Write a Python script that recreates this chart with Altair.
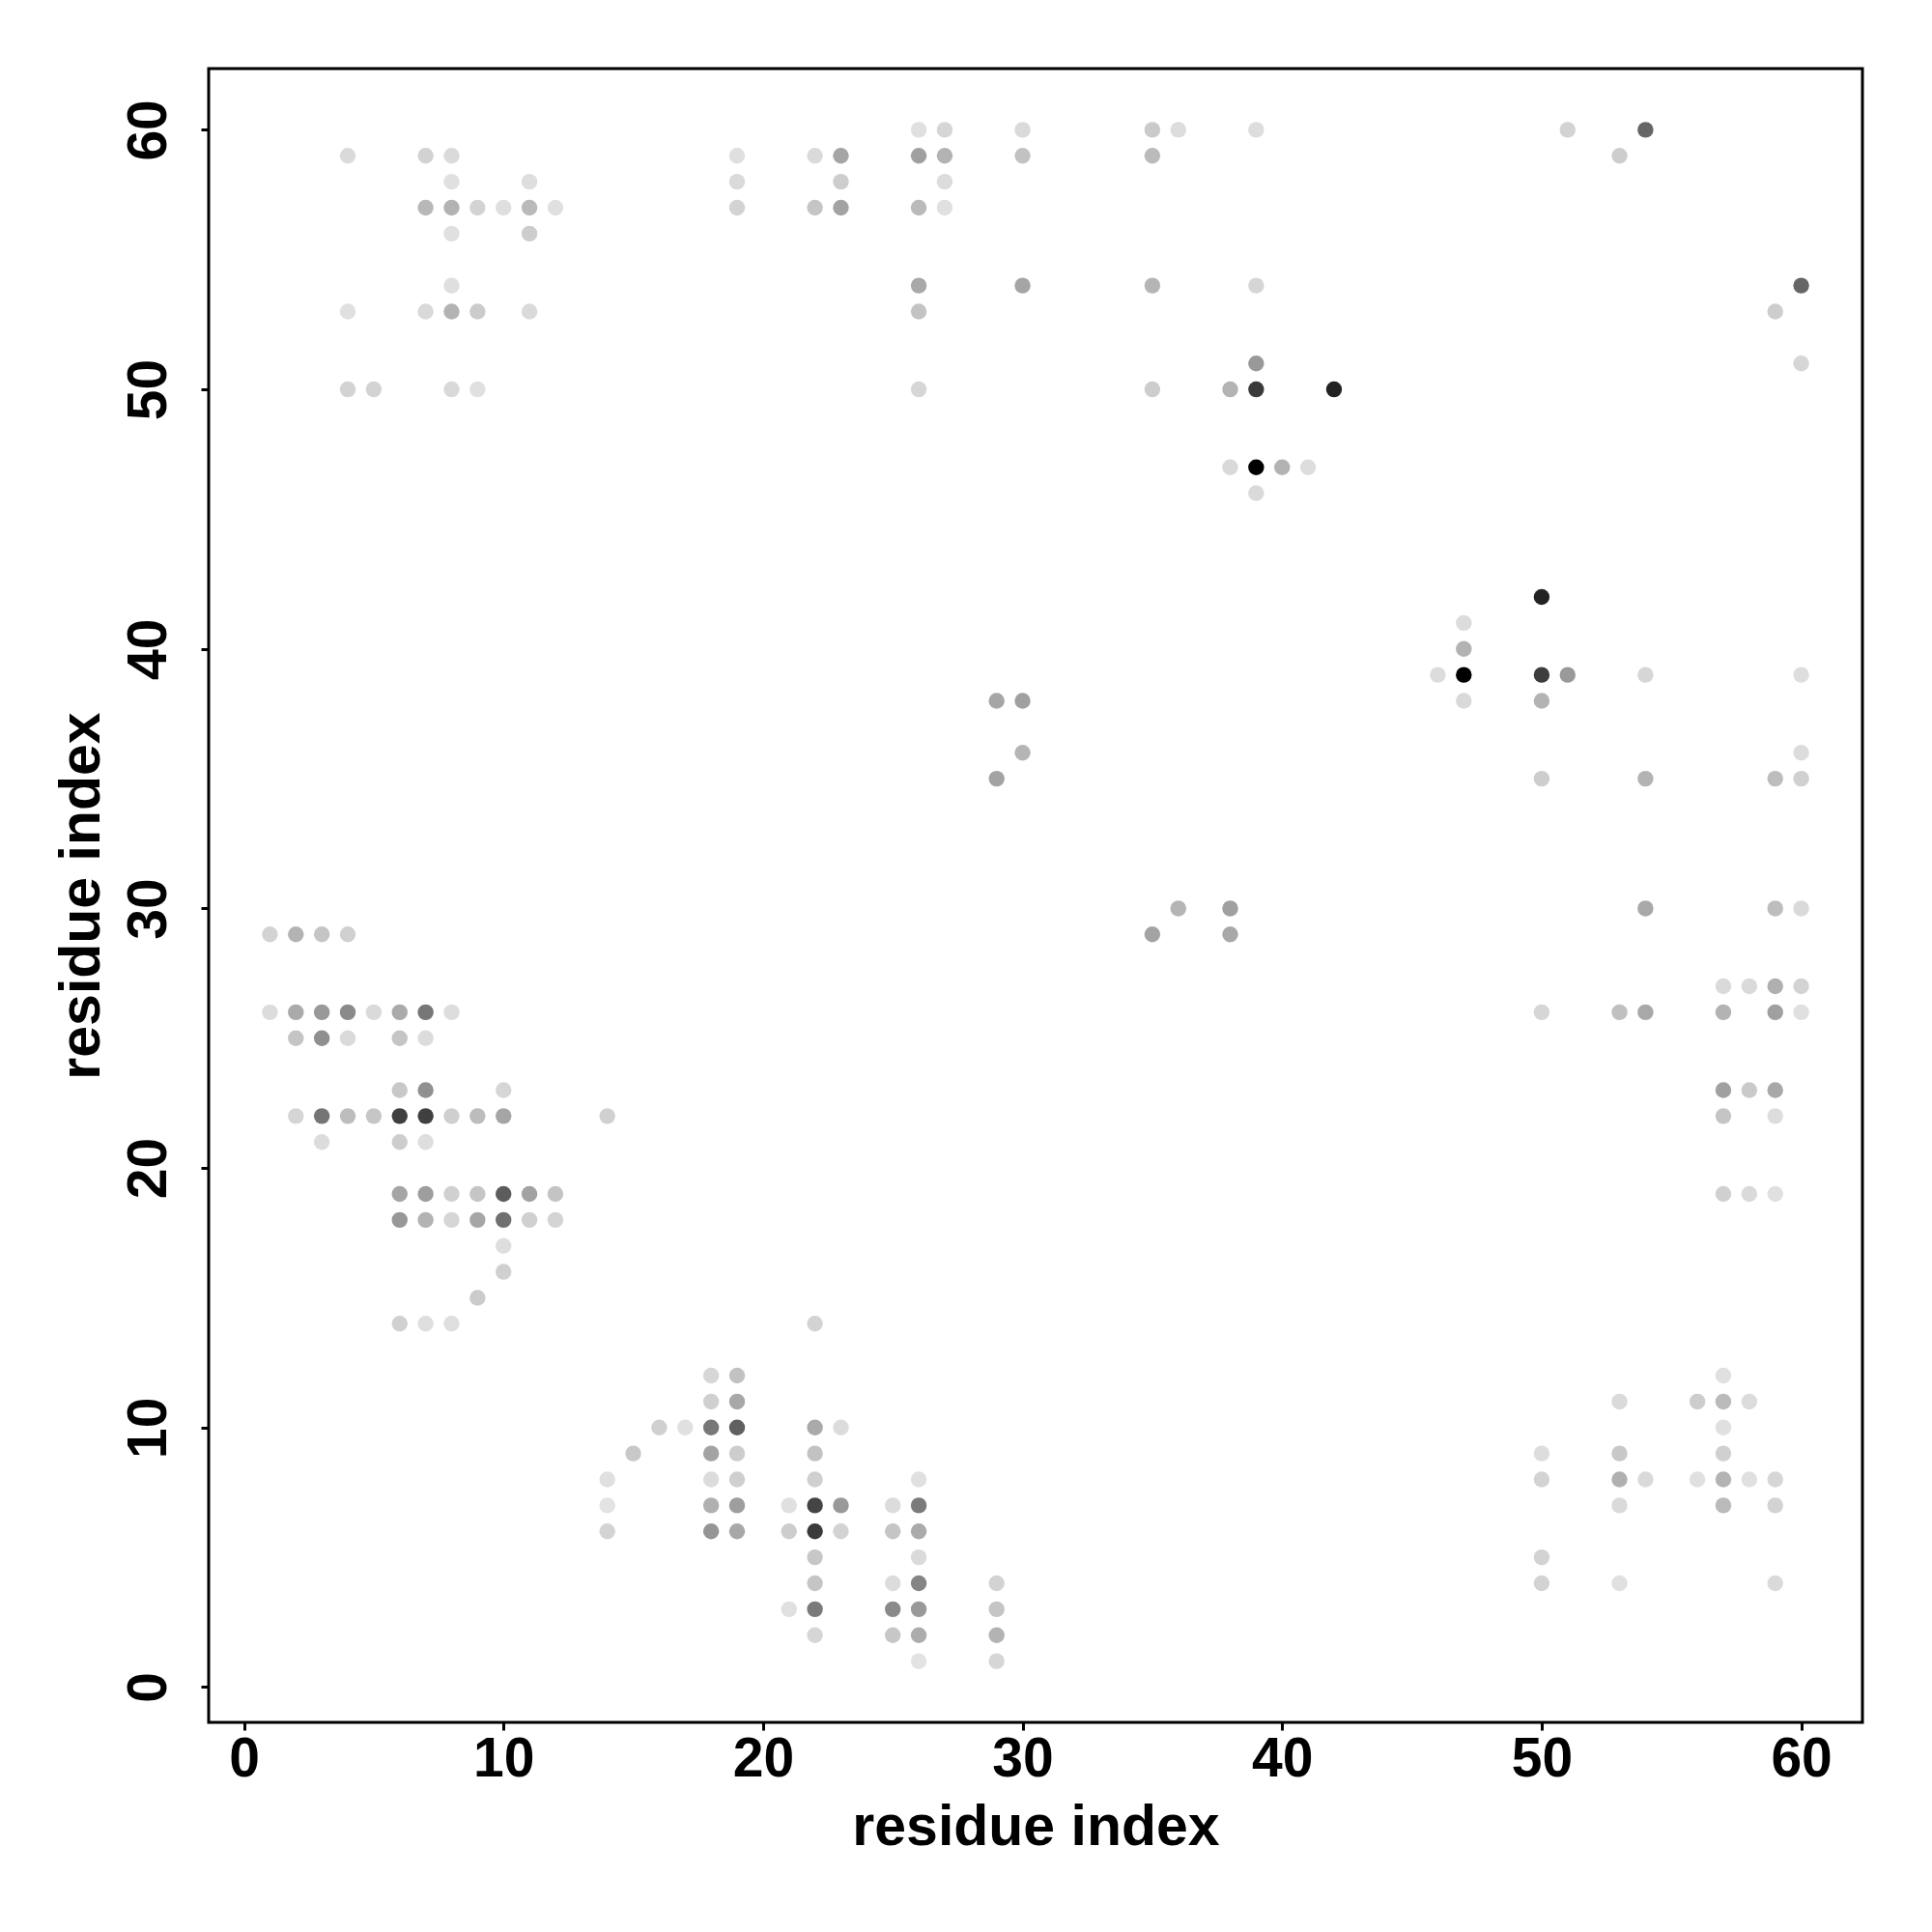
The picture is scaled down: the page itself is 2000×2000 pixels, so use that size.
import altair as alt
import pandas as pd

# contact map points: (residue i, residue j, gray level 0=black .. 255=white)
res_i = [
    1, 2, 3, 4,
    1, 2, 3, 4, 5, 6, 7, 8,
    2, 3, 4, 6, 7,
    6, 7, 10,
    2, 3, 4, 5, 6, 7, 8, 9, 10, 14,
    3, 6, 7,
    6, 7, 8, 9, 10, 11, 12,
    6, 7, 8, 9, 10, 11, 12,
    10, 10, 9,
    6, 7, 8,
    4, 7, 8,
    8, 11,
    7, 8, 9, 10, 11, 12,
    8, 11,
    8,
    4, 7, 8, 9, 11,
    4, 5, 8, 9,
    22,
    18, 19,
    18, 19,
    16, 17, 18, 19, 22, 23,
    15, 18, 19, 22,
    14, 18, 19, 22, 26,
    14, 18, 19, 21, 22, 23, 25, 26,
    14, 18, 19, 21, 22, 23, 25, 26,
    22, 26,
    22, 25, 26, 29,
    21, 22, 25, 26, 29,
    22, 25, 26, 29,
    26, 29,
    26, 27, 30, 35, 36,
    19, 22, 23, 26, 27, 30, 35,
    19, 23, 27,
    19, 22, 23, 26, 27,
    26, 30, 35,
    26,
    26, 35,
    39, 39, 39, 38, 39, 42,
    38, 39, 40, 41, 39,
    29, 30, 30, 29, 36, 38, 35, 38,
    50, 47, 47,
    46, 47, 50, 51, 54, 60,
    47, 50,
    60,
    50, 54, 59, 60,
    54, 59, 60,
    57, 58, 59, 60,
    50, 53, 54, 57, 59, 60,
    57, 58, 59, 57, 59, 57, 58, 59,
    57, 53, 56, 57, 58, 57,
    50, 53, 57,
    50, 53, 54, 56, 57, 58, 59,
    53, 57, 59,
    50, 50, 53, 59,
    51, 54, 53, 60, 59, 60,
]
res_j = [
    29, 29, 29, 29,
    26, 26, 26, 26, 26, 26, 26, 26,
    25, 25, 25, 25, 25,
    23, 23, 23,
    22, 22, 22, 22, 22, 22, 22, 22, 22, 22,
    21, 21, 21,
    19, 19, 19, 19, 19, 19, 19,
    18, 18, 18, 18, 18, 18, 18,
    17, 16, 15,
    14, 14, 14,
    59, 59, 59,
    58, 58,
    57, 57, 57, 57, 57, 57,
    56, 56,
    54,
    53, 53, 53, 53, 53,
    50, 50, 50, 50,
    14,
    12, 12,
    11, 11,
    10, 10, 10, 10, 10, 10,
    9, 9, 9, 9,
    8, 8, 8, 8, 8,
    7, 7, 7, 7, 7, 7, 7, 7,
    6, 6, 6, 6, 6, 6, 6, 6,
    5, 5,
    4, 4, 4, 4,
    3, 3, 3, 3, 3,
    2, 2, 2, 2,
    1, 1,
    60, 60, 60, 60, 60,
    59, 59, 59, 59, 59, 59, 59,
    58, 58, 58,
    57, 57, 57, 57, 57,
    54, 54, 54,
    53,
    50, 50,
    60, 54, 51, 50, 50, 50,
    47, 47, 47, 47, 46,
    38, 38, 36, 35, 30, 30, 29, 29,
    42, 41, 40,
    39, 39, 39, 39, 39, 39,
    38, 38,
    36,
    35, 35, 35, 35,
    30, 30, 30,
    27, 27, 27, 27,
    26, 26, 26, 26, 26, 26,
    23, 23, 23, 22, 22, 19, 19, 19,
    12, 11, 11, 11, 11, 10,
    9, 9, 9,
    8, 8, 8, 8, 8, 8, 8,
    7, 7, 7,
    5, 4, 4, 4,
    60, 60, 59, 54, 53, 51,
]
gray = [
    0xd3, 0xb3, 0xc5, 0xd0,
    0xdc, 0xaa, 0x99, 0x8a, 0xda, 0xaa, 0x77, 0xdd,
    0xc5, 0x8f, 0xda, 0xc5, 0xdc,
    0xc8, 0x90, 0xd6,
    0xd5, 0x75, 0xbd, 0xc6, 0x3f, 0x40, 0xcf, 0xbc, 0xa5, 0xd0,
    0xdc, 0xcd, 0xde,
    0xa5, 0x9e, 0xd0, 0xc5, 0x5c, 0xa2, 0xc4,
    0x97, 0xb3, 0xd6, 0xa6, 0x70, 0xd0, 0xd4,
    0xde, 0xd0, 0xcb,
    0xd0, 0xde, 0xde,
    0xda, 0xd2, 0xda,
    0xe0, 0xde,
    0xb8, 0xb3, 0xd3, 0xdf, 0xba, 0xe0,
    0xe0, 0xcd,
    0xdf,
    0xe0, 0xd9, 0xb3, 0xcb, 0xda,
    0xd3, 0xd3, 0xd9, 0xe0,
    0xd3,
    0xd6, 0xc2,
    0xd0, 0xa8,
    0xd0, 0xe0, 0x78, 0x60, 0xaa, 0xdc,
    0xc8, 0xa3, 0xcd, 0xc2,
    0xe0, 0xdc, 0xcf, 0xd0, 0xe0,
    0xe3, 0xb0, 0x9e, 0xe0, 0x45, 0x99, 0xdc, 0x7b,
    0xd3, 0x95, 0xa8, 0xcd, 0x3a, 0xd3, 0xc5, 0xaa,
    0xc7, 0xda,
    0xc5, 0xdc, 0x85, 0xd3,
    0xe0, 0x7a, 0x8a, 0x99, 0xc5,
    0xd6, 0xc7, 0xac, 0xb3,
    0xe3, 0xd6,
    0xe0, 0xd6, 0xda, 0xca, 0xdd,
    0xdf, 0xda, 0xa5, 0xa0, 0xb3, 0xc2, 0xbb,
    0xda, 0xcd, 0xdc,
    0xd3, 0xc5, 0xa3, 0xba, 0xe0,
    0xa8, 0xa5, 0xb5,
    0xc3,
    0xd6, 0xcd,
    0xdd, 0xd6, 0x99, 0xb3, 0x3a, 0x22,
    0xd9, 0x00, 0xb3, 0xdd, 0xda,
    0xa6, 0xa0, 0xb5, 0xa3, 0xb5, 0xa0, 0xa3, 0xa8,
    0x22, 0xdc, 0xb3,
    0xdc, 0x00, 0x3d, 0x99, 0xd6, 0xde,
    0xd9, 0xb3,
    0xdc,
    0xcd, 0xb3, 0xbd, 0xd0,
    0xa8, 0xbd, 0xda,
    0xda, 0xda, 0xb0, 0xd3,
    0xd6, 0xc0, 0xa8, 0xb3, 0xa0, 0xe0,
    0xa0, 0xca, 0xa8, 0xc5, 0xdd, 0xd0, 0xda, 0xe0,
    0xe0, 0xda, 0xcd, 0xba, 0xdc, 0xe0,
    0xdd, 0xc8, 0xd0,
    0xd3, 0xb0, 0xda, 0xe0, 0xb3, 0xe0, 0xd6,
    0xda, 0xba, 0xd3,
    0xd3, 0xd3, 0xe0, 0xda,
    0xd3, 0x66, 0xcd, 0x66, 0xcd, 0xd6,
]
tick_values = [0, 10, 20, 30, 40, 50, 60]
axis_title = "residue index"

df = pd.DataFrame({"i": res_i, "j": res_j, "g": gray})
df["color"] = ["#{0:02x}{0:02x}{0:02x}".format(v) for v in df["g"]]
df = df.sort_values("g", ascending=False)

W = 1712
H = 1712
dom = [-1.36, 62.36]
FONT = "Liberation Sans"

x_axis = alt.Axis(
    values=tick_values, title=axis_title, grid=False, domain=False,
    ticks=True, tickSize=8, tickWidth=3, tickColor="black",
    labelFont=FONT, labelFontSize=57, labelFontWeight="bold", labelColor="black",
    labelBaseline="alphabetic", labelPadding=47, labelAlign="center",
    titleFont=FONT, titleFontSize=59, titleFontWeight="bold", titleColor="black",
    titleBaseline="alphabetic", titleX=W / 2, titleY=126, titleAlign="center",
)
y_axis = alt.Axis(
    values=tick_values, title=axis_title, grid=False, domain=False,
    ticks=True, tickSize=8, tickWidth=3, tickColor="black",
    labelFont=FONT, labelFontSize=57, labelFontWeight="bold", labelColor="black",
    labelAngle=270, labelAlign="center", labelBaseline="alphabetic", labelPadding=37,
    titleFont=FONT, titleFontSize=59, titleFontWeight="bold", titleColor="black",
    titleAngle=270, titleBaseline="alphabetic", titleAlign="center",
    titleX=-114, titleY=H / 2,
)

chart = (
    alt.Chart(df)
    .mark_circle(size=270, opacity=1)
    .encode(
        x=alt.X("i:Q", scale=alt.Scale(domain=dom, nice=False, zero=False), axis=x_axis),
        y=alt.Y("j:Q", scale=alt.Scale(domain=dom, nice=False, zero=False), axis=y_axis),
        color=alt.Color("color:N", scale=None),
    )
    .properties(
        width=W, height=H,
        background="white",
        autosize=alt.AutoSizeParams(type="none"),
        padding={"left": 208, "top": 63, "right": 60, "bottom": 160},
    )
    .configure_view(stroke="black", strokeWidth=3, fill="white")
)

chart.save("out.html", embed_options={"renderer": "svg", "actions": False})
